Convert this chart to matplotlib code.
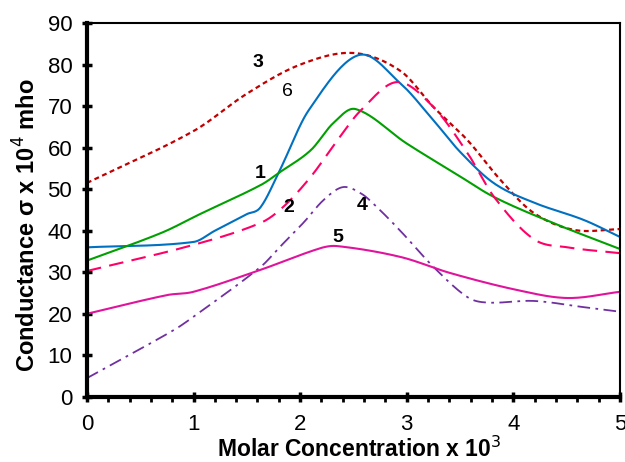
import numpy as np
import matplotlib.pyplot as plt

plt.rcParams['font.family'] = ['Liberation Sans', 'DejaVu Sans']

# series (x = molar concentration x 10^3)
x1 = [0, 0.7, 1.06, 1.63, 1.81, 2.1, 2.31, 2.52, 3.0, 3.48, 3.82, 4.38, 5.0]
y1 = [32.8, 39.5, 44.0, 51.0, 54.1, 59.4, 65.9, 69.3, 61.0, 53.4, 48.1, 41.8, 35.6]

x2 = [0, 1.0, 1.63, 1.84, 2.1, 2.35, 2.57, 2.91, 3.25, 3.57, 3.82, 4.19, 4.51, 5.0]
y2 = [30.3, 36.6, 41.9, 45.7, 53.0, 61.8, 69.0, 75.8, 69.8, 58.7, 48.1, 38.0, 36.0, 34.6]

x3 = [0, 1.0, 1.5, 2.0, 2.5, 2.94, 3.25, 3.57, 3.88, 4.19, 4.57, 5.0]
y3 = [51.5, 64.0, 73.0, 80.0, 82.8, 78.5, 69.8, 61.8, 52.2, 44.3, 40.2, 40.4]

x4 = [0, 0.81, 1.0, 1.63, 1.81, 2.03, 2.22, 2.4, 2.57, 2.72, 2.95, 3.25, 3.57, 3.76, 4.19, 4.66, 5.0]
y4 = [4.5, 16.0, 19.3, 31.3, 36.1, 41.9, 47.4, 50.5, 49.0, 45.7, 39.7, 31.3, 24.0, 22.7, 23.1, 21.6, 20.5]

x5 = [0, 0.75, 1.0, 1.63, 2.19, 2.35, 2.94, 3.41, 4.04, 4.51, 5.0]
y5 = [20.0, 24.5, 25.3, 30.6, 35.8, 36.3, 33.7, 29.8, 25.7, 23.8, 25.3]

x6 = [0, 1.0, 1.2, 1.5, 1.63, 1.81, 2.08, 2.55, 2.94, 3.25, 3.5, 3.82, 4.2, 4.66, 5.0]
y6 = [36.0, 37.3, 40.0, 44.0, 45.7, 54.6, 69.0, 82.3, 75.5, 66.6, 59.0, 51.4, 46.7, 42.6, 38.5]

labels = ['1', '2', '3', '4', '5', '6']
label_pos = [(1.63, 53.9), (1.89, 45.7), (1.6, 80.4), (2.58, 46.0), (2.35, 38.3), (1.88, 73.6)]
label_bold = [True, True, True, True, True, False]


def smooth(x, y, n=25):
    # cubic Hermite curve through the points (spreadsheet-style smoothed line)
    x = np.asarray(x, float)
    y = np.asarray(y, float)
    m = np.empty_like(y)
    m[1:-1] = (y[2:] - y[:-2]) / (x[2:] - x[:-2])
    m[0] = (y[1] - y[0]) / (x[1] - x[0])
    m[-1] = (y[-1] - y[-2]) / (x[-1] - x[-2])
    xs, ys = [], []
    for i in range(len(x) - 1):
        h = x[i + 1] - x[i]
        t = np.linspace(0, 1, n, endpoint=False)
        h00 = 2 * t ** 3 - 3 * t ** 2 + 1
        h10 = t ** 3 - 2 * t ** 2 + t
        h01 = -2 * t ** 3 + 3 * t ** 2
        h11 = t ** 3 - t ** 2
        xs.append(x[i] + t * h)
        ys.append(h00 * y[i] + h10 * h * m[i] + h01 * y[i + 1] + h11 * h * m[i + 1])
    xs.append([x[-1]])
    ys.append([y[-1]])
    return np.concatenate(xs), np.concatenate(ys)


fig = plt.figure(figsize=(6.25, 4.62), dpi=100)
ax = fig.add_axes([0.139, 0.141, 0.853, 0.809])

ax.plot(*smooth(x3, y3), color='#C00000', lw=1.6, dashes=(2.2, 1.6))
ax.plot(*smooth(x6, y6), color='#0070C0', lw=1.5)
ax.plot(*smooth(x1, y1), color='#00A000', lw=1.5)
ax.plot(*smooth(x2, y2), color='#FF0066', lw=1.5, dashes=(7, 4))
ax.plot(*smooth(x4, y4), color='#7030A0', lw=1.3, dashes=(7, 3, 1.5, 3))
ax.plot(*smooth(x5, y5), color='#E0149C', lw=1.5)

for lab, (lx, ly), b in zip(labels, label_pos, label_bold):
    ax.text(lx, ly, lab, fontsize=14, fontweight='bold' if b else 'normal',
            ha='center', va='center')

ax.set_xlim(0, 5)
ax.set_ylim(0, 90)
ax.set_xticks(np.arange(0, 6, 1))
ax.set_yticks(np.arange(0, 100, 10))
ax.set_xticks(np.arange(0, 5.01, 0.2), minor=True)
ax.tick_params(axis='both', labelsize=16, width=2.5, length=7, direction='inout')
ax.tick_params(axis='x', which='minor', width=2, length=3.5, direction='out')
ax.tick_params(axis='x', pad=9)
ax.tick_params(axis='y', pad=7)
ax.spines['left'].set_linewidth(3)
ax.spines['bottom'].set_linewidth(3)
ax.spines['top'].set_linewidth(1.5)
ax.spines['right'].set_linewidth(1.5)

ax.set_xlabel('Molar Concentration x 10$^3$', fontsize=16.5, fontweight='bold', va='baseline')
ax.xaxis.set_label_coords(0.51, -0.160)
ax.set_ylabel('Conductance σ x 10$^4$ mho', fontsize=17, fontweight='bold', va='center')
ax.yaxis.set_label_coords(-0.113, 0.46)

fig.savefig('out.png', dpi=100)
